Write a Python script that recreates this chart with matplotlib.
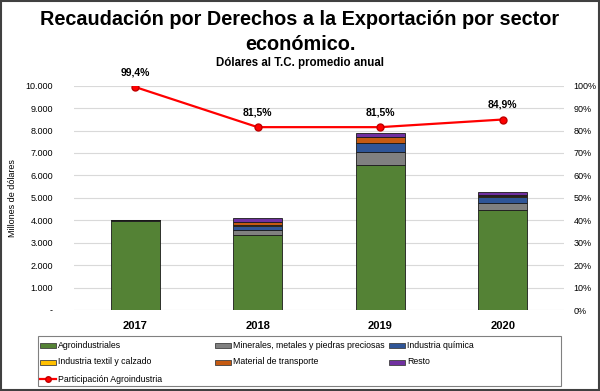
import numpy as np
import matplotlib.pyplot as plt
from matplotlib.patches import Rectangle
from matplotlib.lines import Line2D
from matplotlib.ticker import FuncFormatter

years = ['2017', '2018', '2019', '2020']
agro = [3990, 3325, 6445, 4470]
minerales = [5, 230, 600, 310]
quimica = [5, 190, 400, 260]
textil = [3, 25, 20, 20]
transporte = [2, 140, 235, 70]
resto = [10, 170, 208, 135]
participacion = [99.4, 81.5, 81.5, 84.9]

series = [agro, minerales, quimica, textil, transporte, resto]
names = ['Agroindustriales', 'Minerales, metales y piedras preciosas', 'Industria química',
         'Industria textil y calzado', 'Material de transporte', 'Resto']
colors = ['#548235', '#808080', '#2f5597', '#ffc000', '#c55a11', '#7030a0']

plt.rcParams['font.family'] = ['Liberation Sans', 'DejaVu Sans']

fig = plt.figure(figsize=(6, 3.91), dpi=100)
ax = fig.add_axes([0.123, 0.207, 0.817, 0.574])
x = np.arange(len(years))

bottom = np.zeros(len(years))
for vals, c in zip(series, colors):
    ax.bar(x, vals, 0.4, bottom=bottom, color=c, edgecolor='#1a1a1a', linewidth=0.6, zorder=2)
    bottom += np.array(vals)

ax.set_ylim(0, 10000)
ax.set_xlim(-0.5, 3.5)
ax.set_yticks(np.arange(0, 10001, 1000))
ax.yaxis.set_major_formatter(FuncFormatter(lambda v, p: '-' if v == 0 else f'{int(v):,}'.replace(',', '.')))
ax.grid(axis='y', color='#d9d9d9', linewidth=0.8, zorder=0)
ax.set_xticks(x)
ax.set_xticklabels(years, fontweight='bold', fontsize=8)
ax.tick_params(axis='y', length=0, labelsize=6.5, pad=15)
ax.tick_params(axis='x', length=0, pad=8)
for s in ax.spines.values():
    s.set_visible(False)
ax.set_ylabel('Millones de dólares', fontsize=6.5)
ax.yaxis.set_label_coords(-0.116, 0.5)

ax2 = ax.twinx()
ax2.plot(x, participacion, color='#ff0000', linewidth=1.6, marker='o', markersize=5,
         markerfacecolor='#ff0000', markeredgecolor='#c00000', zorder=3)
ax2.set_ylim(0, 100)
ax2.set_yticks(np.arange(0, 101, 10))
ax2.yaxis.set_major_formatter(FuncFormatter(lambda v, p: f'{int(v)}%'))
ax2.tick_params(length=0, labelsize=6.5, pad=7)
for s in ax2.spines.values():
    s.set_visible(False)
for xi, p in zip(x, participacion):
    ax2.annotate(f'{p:.1f}%'.replace('.', ','), (xi, p), xytext=(0, 7), textcoords='offset points',
                 ha='center', va='bottom', fontsize=7.5, fontweight='bold', clip_on=False)

fig.text(0.5, 0.949, 'Recaudación por Derechos a la Exportación por sector',
         ha='center', va='center', fontsize=14.3, fontweight='bold')
fig.text(0.5, 0.885, 'económico.', ha='center', va='center', fontsize=14.3, fontweight='bold')
fig.text(0.5, 0.839, 'Dólares al T.C. promedio anual', ha='center', va='center',
         fontsize=8.3, fontweight='bold')

# legend drawn by hand, Excel style fixed columns
W, H = 600.0, 391.0
fig.add_artist(Rectangle((38 / W, 1 - 386 / H), 523 / W, 50 / H, transform=fig.transFigure,
                         fill=False, edgecolor='#808080', linewidth=0.8))
cols = [40, 215, 389]
rows = [345, 362, 379]
entries = [(0, 0, 0), (1, 0, 1), (2, 0, 2), (3, 1, 0), (4, 1, 1), (5, 1, 2)]
for i, r, cidx in entries:
    hx, hy = cols[cidx], rows[r]
    fig.add_artist(Rectangle((hx / W, 1 - (hy + 2.5) / H), 16 / W, 5 / H, transform=fig.transFigure,
                             facecolor=colors[i], edgecolor='#404040', linewidth=0.6))
    fig.text((hx + 18) / W, 1 - hy / H, names[i], ha='left', va='center', fontsize=6.3)
hx, hy = cols[0], rows[2]
fig.add_artist(Line2D([hx / W, (hx + 16) / W], [1 - hy / H, 1 - hy / H], transform=fig.transFigure,
                      color='#ff0000', linewidth=1.6))
fig.add_artist(Line2D([(hx + 8) / W], [1 - hy / H], transform=fig.transFigure, marker='o',
                      markersize=4, markerfacecolor='#ff0000', markeredgecolor='#c00000'))
fig.text((hx + 18) / W, 1 - hy / H, 'Participación Agroindustria', ha='left', va='center', fontsize=6.3)

fig.add_artist(Rectangle((0.002, 0.003), 0.996, 0.994, transform=fig.transFigure,
                         fill=False, edgecolor='#404040', linewidth=1.5))

fig.savefig('out.png', dpi=100)
